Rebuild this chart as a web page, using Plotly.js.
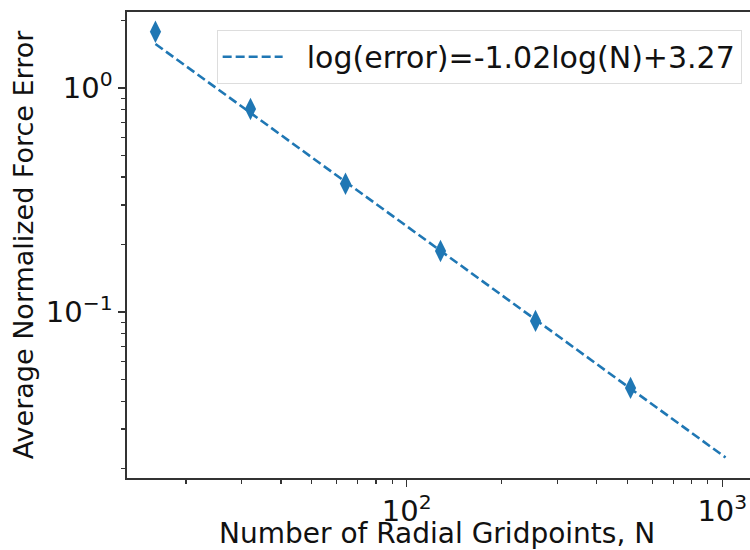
<!DOCTYPE html>
<html>
<head>
<meta charset="utf-8">
<script src="https://cdn.plot.ly/plotly-3.0.1.min.js"></script>
<style>
html, body { margin: 0; padding: 0; overflow: hidden; background: #fff; }
#chart { width: 760px; height: 550px; }
</style>
</head>
<body>
<div id="chart"></div>
<script>
// Data
const gridN = [16, 32, 64, 128, 256, 512];
const forceError = [1.78, 0.805, 0.373, 0.187, 0.0912, 0.0458];
const fitN = [16, 1024];
const fitError = [1.57, 0.0224];
const fitLabel = 'log(error)=-1.02log(N)+3.27';
const xTitle = 'Number of Radial Gridpoints, N';
const yTitle = 'Average Normalized Force Error';

const xMajor = [100, 1000];
const xMajorText = ['10<sup>2</sup>', '10<sup>3</sup>'];
const xMinor = [20, 30, 40, 50, 60, 70, 80, 90, 200, 300, 400, 500, 600, 700, 800, 900];
const yMajor = [0.1, 1];
const yMajorText = ['10<sup>\u22121</sup>', '10<sup>0</sup>'];
const yMinor = [0.02, 0.03, 0.04, 0.05, 0.06, 0.07, 0.08, 0.09, 0.2, 0.3, 0.4, 0.5, 0.6, 0.7, 0.8, 0.9, 2];

const blue = '#1f77b4';
const font = 'DejaVu Sans, sans-serif';

const traces = [
  {
    x: fitN, y: fitError, type: 'scatter', mode: 'lines',
    name: '\u00a0\u00a0' + fitLabel,
    line: { color: blue, width: 2.6, dash: '9px,4px' }
  },
  {
    x: gridN, y: forceError, type: 'scatter', mode: 'markers',
    showlegend: false,
    marker: { symbol: 'diamond-tall', size: 16, color: blue }
  }
];

const axisCommon = {
  type: 'log',
  showgrid: false, zeroline: false,
  showline: true, linecolor: '#333', linewidth: 1.6, mirror: true,
  ticks: 'outside', ticklen: 7, tickwidth: 1.5, tickcolor: '#333',
  tickfont: { family: font, size: 29, color: '#111' }
};

const layout = {
  width: 760, height: 550,
  margin: { l: 127, r: 6, t: 12, b: 72 },
  paper_bgcolor: '#fff', plot_bgcolor: '#fff',
  showlegend: true,
  xaxis: Object.assign({}, axisCommon, {
    range: [Math.log10(13.0), Math.log10(1260)],
    tickmode: 'array', tickvals: xMajor, ticktext: xMajorText,
    tickfont: { family: font, size: 29, color: '#111' },
    ticklabelstandoff: 0,
    minor: { tickmode: 'array', tickvals: xMinor, ticks: 'outside', ticklen: 4, tickwidth: 1.2, tickcolor: '#333' }
  }),
  yaxis: Object.assign({}, axisCommon, {
    range: [Math.log10(0.01815), Math.log10(2.18)],
    tickmode: 'array', tickvals: yMajor, ticktext: yMajorText,
    minor: { tickmode: 'array', tickvals: yMinor, ticks: 'outside', ticklen: 4, tickwidth: 1.2, tickcolor: '#333' },
    title: { text: yTitle, font: { family: font, size: 27, color: '#111' }, standoff: 4 }
  }),
  annotations: [
    {
      text: xTitle, xref: 'paper', yref: 'paper',
      x: (437 - 127) / 627, y: (478 - 533) / 466,
      xanchor: 'center', yanchor: 'middle', showarrow: false, borderpad: 0,
      font: { family: font, size: 28, color: '#111' }
    }
  ],
  legend: {
    x: 0.143, y: 0.962, xanchor: 'left', yanchor: 'top',
    bgcolor: '#fff', bordercolor: '#ddd', borderwidth: 1,
    font: { family: font, size: 30, color: '#111' },
    itemwidth: 60
  }
};

Plotly.newPlot('chart', traces, layout, { staticPlot: true, displayModeBar: false });
</script>
</body>
</html>
